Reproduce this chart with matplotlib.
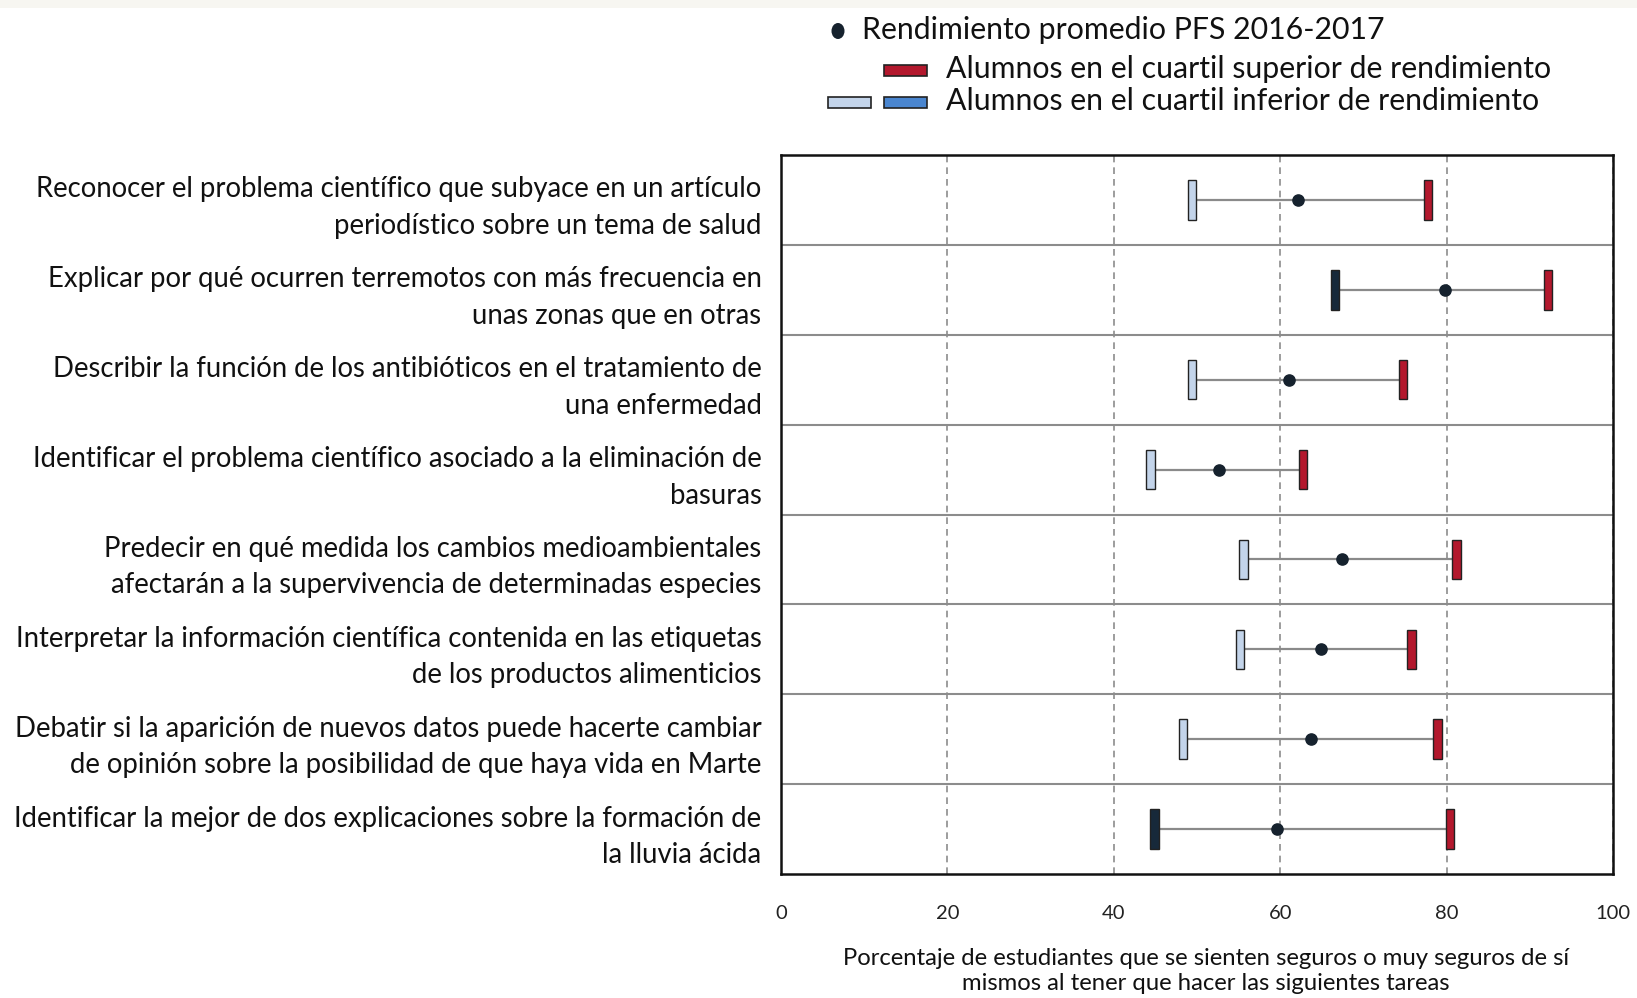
import matplotlib
matplotlib.use("Agg")
import matplotlib.pyplot as plt
from matplotlib.patches import Rectangle, Ellipse
import numpy as np

tasks = [
    "Reconocer el problema científico que subyace en un artículo\nperiodístico sobre un tema de salud",
    "Explicar por qué ocurren terremotos con más frecuencia en\nunas zonas que en otras",
    "Describir la función de los antibióticos en el tratamiento de\nuna enfermedad",
    "Identificar el problema científico asociado a la eliminación de\nbasuras",
    "Predecir en qué medida los cambios medioambientales\nafectarán a la supervivencia de determinadas especies",
    "Interpretar la información científica contenida en las etiquetas\nde los productos alimenticios",
    "Debatir si la aparición de nuevos datos puede hacerte cambiar\nde opinión sobre la posibilidad de que haya vida en Marte",
    "Identificar la mejor de dos explicaciones sobre la formación de\nla lluvia ácida",
]
low_quartile = [49.4, 66.6, 49.4, 44.4, 55.6, 55.2, 48.3, 44.9]
average = [62.1, 79.8, 61.1, 52.7, 67.4, 64.9, 63.7, 59.6]
top_quartile = [77.8, 92.2, 74.8, 62.7, 81.2, 75.8, 78.9, 80.4]
low_significant = [False, True, False, False, False, False, False, True]
x_ticks = [0, 20, 40, 60, 80, 100]

FONT = ["Lato", "DejaVu Sans"]
plt.rcParams["font.family"] = FONT

RED = "#b3182d"
LIGHT = "#c3d4ea"
DARK = "#17293a"
MID = "#4a86d0"
DOT = "#16222e"
EDGE = "#222222"

W, H = 1637, 998
fig = plt.figure(figsize=(W / 100, H / 100), dpi=100)
fig.patch.set_facecolor("white")

ax = fig.add_axes([781 / W, 1 - 874 / H, (1613 - 781) / W, (874 - 155) / H])
n = len(tasks)
y = np.arange(n)

for i in range(n):
    ax.plot([low_quartile[i], top_quartile[i]], [y[i], y[i]], color="#8a8a8a", lw=1.6, zorder=2)

low_colors = [DARK if s else LIGHT for s in low_significant]
ax.bar(low_quartile, 0.44, width=1.0, bottom=y - 0.22, color=low_colors,
       edgecolor=EDGE, linewidth=1.0, zorder=3)
ax.bar(top_quartile, 0.44, width=1.0, bottom=y - 0.22, color=RED,
       edgecolor=EDGE, linewidth=1.0, zorder=3)
ax.scatter(average, y, s=65, color=DOT, zorder=4, marker="o")

ax.set_xlim(0, 100)
ax.set_ylim(n - 0.5, -0.5)
ax.set_xticks(x_ticks)
ax.set_xticklabels([str(t) for t in x_ticks], fontsize=14.5, color="#222222")
ax.tick_params(axis="x", length=0, pad=22)
ax.set_yticks(y)
ax.set_yticklabels(tasks, fontsize=19.8, color="#111111", linespacing=1.5)
ax.tick_params(axis="y", length=0, pad=14)
for lbl in ax.get_yticklabels():
    lbl.set_horizontalalignment("right")

ax.set_yticks(np.arange(n - 1) + 0.5, minor=True)
ax.tick_params(axis="y", which="minor", length=0)
ax.grid(axis="y", which="minor", color="#8c8c8c", lw=1.5, ls="-")
ax.grid(axis="x", which="major", color="#8c8c8c", lw=1.2, ls=(0, (4, 3)))
ax.set_axisbelow(True)
for sp in ax.spines.values():
    sp.set_color("#111111")
    sp.set_linewidth(1.8)

fig.text(1206 / W, 1 - 971 / H,
         "Porcentaje de estudiantes que se sienten seguros o muy seguros de sí\nmismos al tener que hacer las siguientes tareas",
         ha="center", va="center", fontsize=17.2, color="#111111", linespacing=1.27)

# overlay in pixel coordinates for legend and top band
ov = fig.add_axes([0, 0, 1, 1], zorder=-1)
ov.set_xlim(0, W)
ov.set_ylim(H, 0)
ov.axis("off")
ov.add_patch(Rectangle((0, 0), W, 8, facecolor="#f7f6f1", edgecolor="none"))

lg = fig.add_axes([0, 0, 1, 1], zorder=5)
lg.set_xlim(0, W)
lg.set_ylim(H, 0)
lg.axis("off")
lg.patch.set_alpha(0)
lg.add_patch(Ellipse((838, 31), 13, 16, facecolor=DOT, edgecolor="none"))
lg.text(862, 30, "Rendimiento promedio PFS 2016-2017", fontsize=21.8, va="center", ha="left", color="#111111")
lg.add_patch(Rectangle((884, 65), 43, 11, facecolor=RED, edgecolor=EDGE, lw=1.2))
lg.text(946, 69, "Alumnos en el cuartil superior de rendimiento", fontsize=21.8, va="center", ha="left", color="#111111")
lg.add_patch(Rectangle((828, 97), 43, 11, facecolor=LIGHT, edgecolor=EDGE, lw=1.2))
lg.add_patch(Rectangle((884, 97), 43, 11, facecolor=MID, edgecolor=EDGE, lw=1.2))
lg.text(946, 101, "Alumnos en el cuartil inferior de rendimiento", fontsize=21.8, va="center", ha="left", color="#111111")

fig.savefig("out.png", dpi=100, facecolor="white")
